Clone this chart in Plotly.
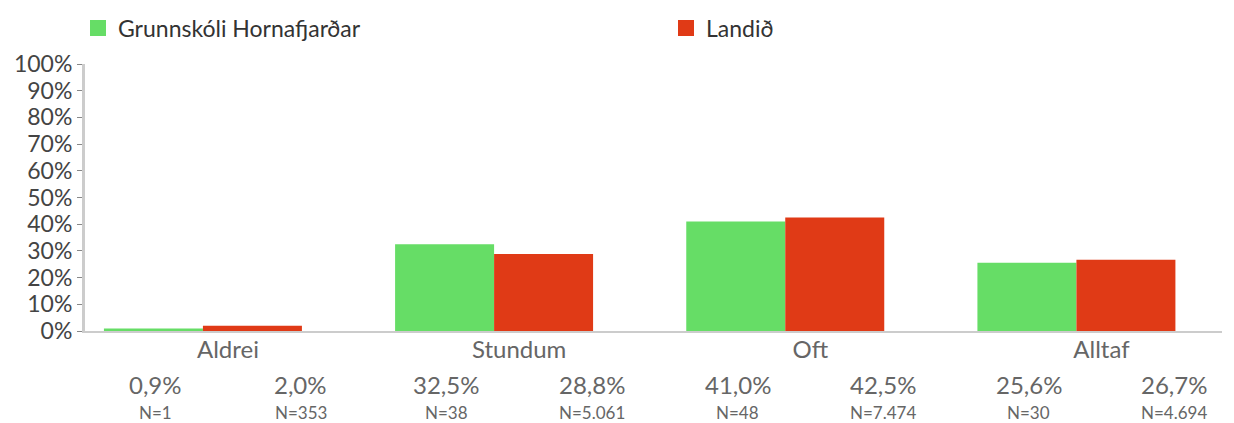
import plotly.graph_objects as go

categories = ["Aldrei", "Stundum", "Oft", "Alltaf"]
school_name = "Grunnskóli Hornafjarðar"
country_name = "Landið"
school_vals = [0.9, 32.5, 41.0, 25.6]
country_vals = [2.0, 28.8, 42.5, 26.7]
school_n = ["N=1", "N=38", "N=48", "N=30"]
country_n = ["N=353", "N=5.061", "N=7.474", "N=4.694"]
yticks = list(range(0, 101, 10))

GREEN = "#66dd66"
RED = "#e03a16"
FONT = "Lato, Noto Sans, sans-serif"

W, H = 1234, 423
ML, MR, MT, MB = 85, 12, 64, 92
LABEL_SHIFT = 0.086  # label columns are shifted right of the bar groups


def fmt(v):
    return f"{v:.1f}%".replace(".", ",")


xs = list(range(len(categories)))
fig = go.Figure()
fig.add_trace(go.Bar(x=xs, y=school_vals, name=school_name, marker_color=GREEN,
                     marker_line_width=0, showlegend=False))
fig.add_trace(go.Bar(x=xs, y=country_vals, name=country_name, marker_color=RED,
                     marker_line_width=0, showlegend=False))
# legend entries with square swatches
fig.add_trace(go.Scatter(x=[None], y=[None], mode="markers", name=school_name,
                         marker=dict(symbol="square", size=18, color=GREEN),
                         legend="legend"))
fig.add_trace(go.Scatter(x=[None], y=[None], mode="markers", name=country_name,
                         marker=dict(symbol="square", size=18, color=RED),
                         legend="legend2"))

ann = []
for i in xs:
    c = i + LABEL_SHIFT
    for off, v, n in ((-0.25, school_vals[i], school_n[i]), (0.25, country_vals[i], country_n[i])):
        ann.append(dict(x=c + off, y=0, xref="x", yref="paper", yshift=-53, yanchor="middle",
                        text=fmt(v), showarrow=False,
                        font=dict(family=FONT, size=24, color="#666")))
        ann.append(dict(x=c + off, y=0, xref="x", yref="paper", yshift=-81, yanchor="middle",
                        text=n, showarrow=False,
                        font=dict(family=FONT, size=17, color="#666")))

leg_common = dict(orientation="h", xref="container", yref="container",
                  y=1 - 28 / H, yanchor="middle", xanchor="left",
                  font=dict(family=FONT, size=23, color="#333"),
                  itemwidth=30, bgcolor="rgba(0,0,0,0)")

fig.update_layout(
    width=W, height=H,
    margin=dict(l=ML, r=MR, t=MT, b=MB, autoexpand=False),
    plot_bgcolor="white", paper_bgcolor="white",
    barmode="group", bargap=0.32, bargroupgap=0,
    font=dict(family=FONT, color="#444"),
    legend=dict(x=78 / W, **leg_common),
    legend2=dict(x=666 / W, **leg_common),
    annotations=ann,
)
fig.update_xaxes(range=[-0.405, 3.5], tickvals=[i + LABEL_SHIFT for i in xs],
                 ticktext=categories,
                 tickfont=dict(family=FONT, size=24, color="#666"),
                 showline=True, linecolor="#cccccc", linewidth=2,
                 showgrid=False, ticks="", zeroline=False, automargin=False,
                 ticklabelstandoff=-4)
fig.update_yaxes(range=[0, 100], tickvals=yticks, ticktext=[f"{t}%" for t in yticks],
                 tickfont=dict(family=FONT, size=23, color="#444"),
                 showline=True, linecolor="#cccccc", linewidth=3,
                 ticks="outside", ticklen=5, tickcolor="#888", tickwidth=1,
                 showgrid=False, zeroline=False, automargin=False)

fig.write_html("out.html", config={"displayModeBar": False},
               post_script="document.body.style.margin='0';document.body.style.overflow='hidden';")
